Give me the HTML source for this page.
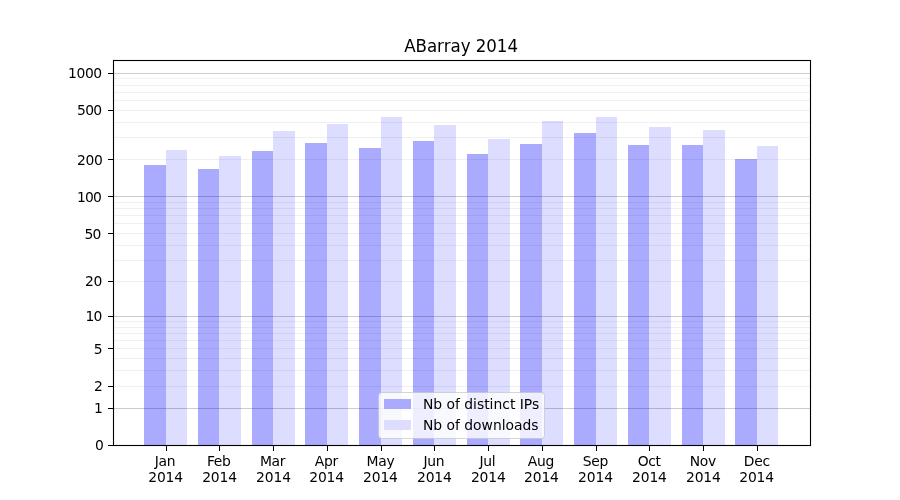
<!DOCTYPE html>
<html><head><meta charset="utf-8"><title>ABarray 2014</title>
<style>
html,body{margin:0;padding:0;background:#fff;}
body{width:900px;height:500px;position:relative;overflow:hidden;font-family:"DejaVu Sans","Liberation Sans",sans-serif;color:#000;}
div{position:absolute;box-sizing:border-box;}
.a{background:#aaaaff;}
.b{background:#ddddff;}
.g{left:114px;width:696px;height:1px;background:rgba(0,0,0,0.2);}
.m{left:114px;width:696px;height:1px;background:rgba(0,0,0,0.058);}
.t{font-size:13.889px;line-height:16px;white-space:nowrap;}
.ls{letter-spacing:-0.26px;}
.yl{width:60px;left:42.8px;text-align:right;}
.xl{width:60px;text-align:center;top:454.3px;line-height:15.7px;}
.yt{left:108px;width:5px;height:1px;background:#000;}
.xt{top:446px;width:1px;height:4.7px;background:#000;}
</style></head><body>

<div class="a" style="left:144px;top:165px;width:22px;height:280px"></div>
<div class="b" style="left:166px;top:150px;width:21px;height:295px"></div>
<div class="a" style="left:198px;top:169px;width:21px;height:276px"></div>
<div class="b" style="left:219px;top:156px;width:22px;height:289px"></div>
<div class="a" style="left:252px;top:151px;width:21px;height:294px"></div>
<div class="b" style="left:273px;top:131px;width:22px;height:314px"></div>
<div class="a" style="left:305px;top:143px;width:22px;height:302px"></div>
<div class="b" style="left:327px;top:124px;width:21px;height:321px"></div>
<div class="a" style="left:359px;top:148px;width:22px;height:297px"></div>
<div class="b" style="left:381px;top:117px;width:21px;height:328px"></div>
<div class="a" style="left:413px;top:141px;width:21px;height:304px"></div>
<div class="b" style="left:434px;top:125px;width:22px;height:320px"></div>
<div class="a" style="left:467px;top:154px;width:21px;height:291px"></div>
<div class="b" style="left:488px;top:139px;width:22px;height:306px"></div>
<div class="a" style="left:520px;top:144px;width:22px;height:301px"></div>
<div class="b" style="left:542px;top:121px;width:21px;height:324px"></div>
<div class="a" style="left:574px;top:133px;width:22px;height:312px"></div>
<div class="b" style="left:596px;top:117px;width:21px;height:328px"></div>
<div class="a" style="left:628px;top:145px;width:21px;height:300px"></div>
<div class="b" style="left:649px;top:127px;width:22px;height:318px"></div>
<div class="a" style="left:682px;top:145px;width:21px;height:300px"></div>
<div class="b" style="left:703px;top:130px;width:22px;height:315px"></div>
<div class="a" style="left:735px;top:159px;width:22px;height:286px"></div>
<div class="b" style="left:757px;top:146px;width:21px;height:299px"></div>
<div class="m" style="top:386px"></div>
<div class="m" style="top:370px"></div>
<div class="m" style="top:358px"></div>
<div class="m" style="top:348px"></div>
<div class="m" style="top:340px"></div>
<div class="m" style="top:333px"></div>
<div class="m" style="top:327px"></div>
<div class="m" style="top:321px"></div>
<div class="m" style="top:281px"></div>
<div class="m" style="top:260px"></div>
<div class="m" style="top:245px"></div>
<div class="m" style="top:233px"></div>
<div class="m" style="top:223px"></div>
<div class="m" style="top:215px"></div>
<div class="m" style="top:208px"></div>
<div class="m" style="top:202px"></div>
<div class="m" style="top:159px"></div>
<div class="m" style="top:137px"></div>
<div class="m" style="top:122px"></div>
<div class="m" style="top:110px"></div>
<div class="m" style="top:100px"></div>
<div class="m" style="top:92px"></div>
<div class="m" style="top:85px"></div>
<div class="m" style="top:78px"></div>
<div class="g" style="top:408px"></div>
<div class="g" style="top:316px"></div>
<div class="g" style="top:196px"></div>
<div class="g" style="top:73px"></div>
<div style="left:113px;top:60px;width:698px;height:386px;border:1px solid #000;box-shadow:0 0 0 1px rgba(0,0,0,0.05),inset 0 0 0 1px rgba(0,0,0,0.05)"></div>
<div class="yt" style="top:445px"></div>
<div class="t yl" style="top:436.89px;left:43.79px;letter-spacing:0.00px">0</div>
<div class="yt" style="top:408px"></div>
<div class="t yl" style="top:399.89px;left:42.82px;letter-spacing:0.00px">1</div>
<div class="yt" style="top:386px"></div>
<div class="t yl" style="top:377.89px;left:42.83px;letter-spacing:0.00px">2</div>
<div class="yt" style="top:348px"></div>
<div class="t yl" style="top:340.89px;left:42.66px;letter-spacing:0.00px">5</div>
<div class="yt" style="top:316px"></div>
<div class="t yl" style="top:307.89px;left:41.30px;letter-spacing:-0.96px">10</div>
<div class="yt" style="top:281px"></div>
<div class="t yl" style="top:272.89px;left:42.09px;letter-spacing:-0.30px">20</div>
<div class="yt" style="top:233px"></div>
<div class="t yl" style="top:225.89px;left:40.43px;letter-spacing:-0.81px">50</div>
<div class="yt" style="top:196px"></div>
<div class="t yl" style="top:188.89px;left:41.18px;letter-spacing:-0.74px">100</div>
<div class="yt" style="top:159px"></div>
<div class="t yl" style="top:151.89px;left:42.72px;letter-spacing:-0.23px">200</div>
<div class="yt" style="top:110px"></div>
<div class="t yl" style="top:101.89px;left:41.43px;letter-spacing:-0.69px">500</div>
<div class="yt" style="top:73px"></div>
<div class="t yl" style="top:64.89px;left:41.71px;letter-spacing:-0.43px">1000</div>
<div class="xt" style="left:166px"></div>
<div class="t xl" style="left:135.00px;letter-spacing:-0.3px">Jan</div>
<div class="t xl" style="left:135.60px;top:470px;letter-spacing:-0.13px">2014</div>
<div class="xt" style="left:219px"></div>
<div class="t xl" style="left:188.79px;letter-spacing:-0.3px">Feb</div>
<div class="t xl" style="left:189.54px;top:470px;letter-spacing:-0.13px">2014</div>
<div class="xt" style="left:273px"></div>
<div class="t xl" style="left:242.57px;letter-spacing:-0.3px">Mar</div>
<div class="t xl" style="left:243.47px;top:470px;letter-spacing:-0.13px">2014</div>
<div class="xt" style="left:327px"></div>
<div class="t xl" style="left:296.41px;letter-spacing:-0.3px">Apr</div>
<div class="t xl" style="left:296.61px;top:470px;letter-spacing:-0.13px">2014</div>
<div class="xt" style="left:381px"></div>
<div class="t xl" style="left:350.44px;letter-spacing:-0.3px">May</div>
<div class="t xl" style="left:350.44px;top:470px;letter-spacing:-0.13px">2014</div>
<div class="xt" style="left:434px"></div>
<div class="t xl" style="left:403.88px;letter-spacing:-0.3px">Jun</div>
<div class="t xl" style="left:404.38px;top:470px;letter-spacing:-0.13px">2014</div>
<div class="xt" style="left:488px"></div>
<div class="t xl" style="left:457.42px;letter-spacing:-0.3px">Jul</div>
<div class="t xl" style="left:458.32px;top:470px;letter-spacing:-0.13px">2014</div>
<div class="xt" style="left:542px"></div>
<div class="t xl" style="left:510.85px;letter-spacing:-0.3px">Aug</div>
<div class="t xl" style="left:511.40px;top:470px;letter-spacing:-0.13px">2014</div>
<div class="xt" style="left:596px"></div>
<div class="t xl" style="left:565.39px;letter-spacing:-0.3px">Sep</div>
<div class="t xl" style="left:565.49px;top:470px;letter-spacing:-0.13px">2014</div>
<div class="xt" style="left:649px"></div>
<div class="t xl" style="left:619.22px;letter-spacing:-0.3px">Oct</div>
<div class="t xl" style="left:619.42px;top:470px;letter-spacing:-0.13px">2014</div>
<div class="xt" style="left:703px"></div>
<div class="t xl" style="left:672.81px;letter-spacing:-0.3px">Nov</div>
<div class="t xl" style="left:673.36px;top:470px;letter-spacing:-0.13px">2014</div>
<div class="xt" style="left:757px"></div>
<div class="t xl" style="left:726.80px;letter-spacing:-0.3px">Dec</div>
<div class="t xl" style="left:726.60px;top:470px;letter-spacing:-0.13px">2014</div>
<div style="left:261.1px;width:400px;text-align:center;letter-spacing:-0.03px;font-size:16.667px;line-height:20px;top:36.5px;white-space:nowrap;transform:scaleY(1.07);transform-origin:50% 15.4px">ABarray 2014</div>
<div style="left:378.6px;top:393.0px;width:165.4px;height:45.2px;background:rgba(255,255,255,0.8);border-radius:2.8px"></div>
<div style="left:377.9px;top:392.3px;width:166.8px;height:46.6px;border:1.39px solid rgba(204,204,204,0.8);border-radius:3.5px"></div>
<div class="a" style="left:384px;top:399px;width:27px;height:10px"></div>
<div class="b" style="left:384px;top:420px;width:27px;height:10px"></div>
<div class="t" style="left:422.9px;top:395.6px">Nb of distinct IPs</div>
<div class="t" style="left:422.9px;top:416.6px">Nb of downloads</div>
</body></html>
